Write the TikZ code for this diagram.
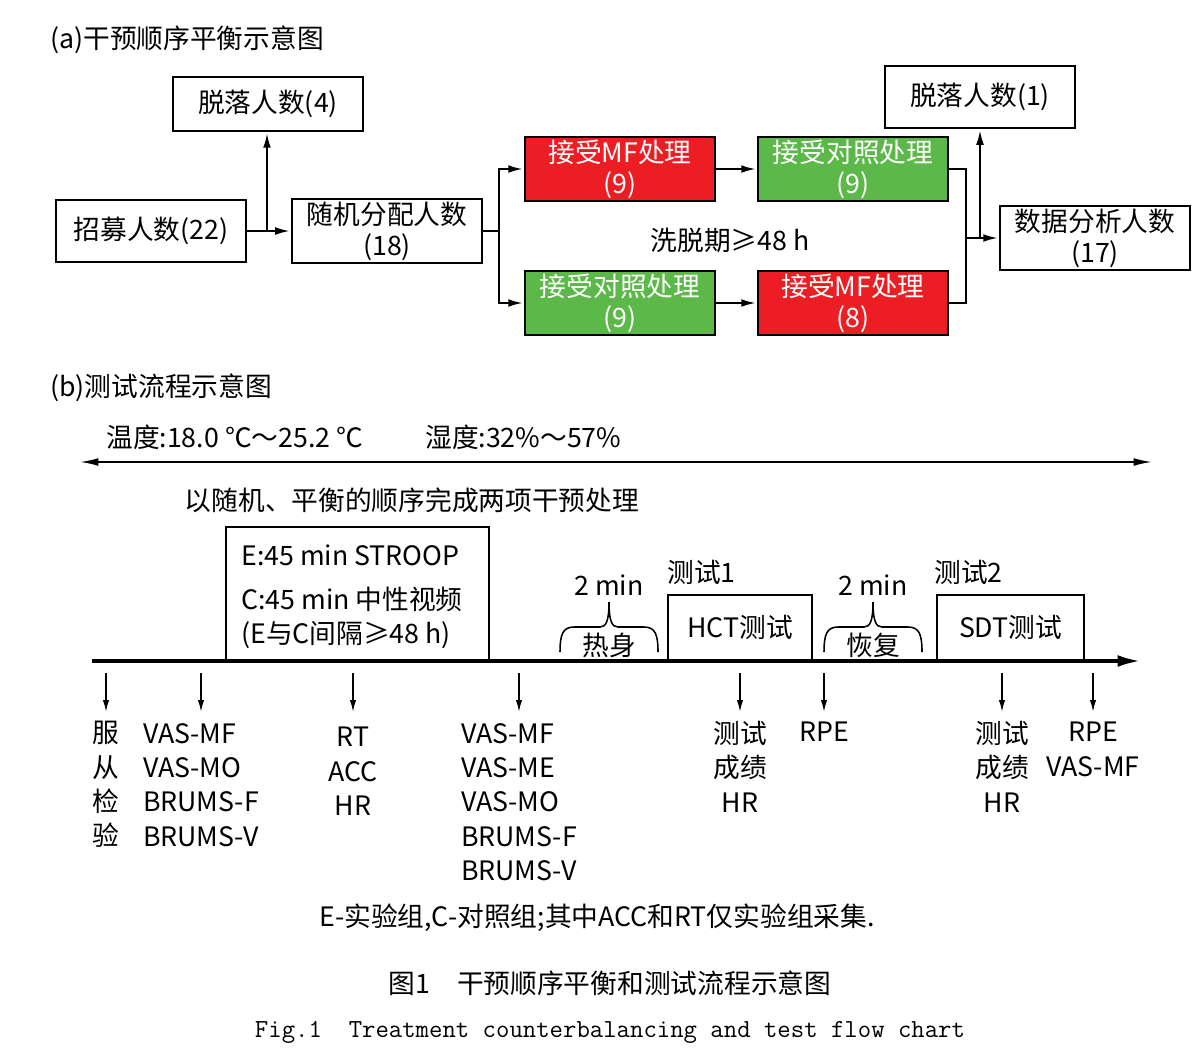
\documentclass[tikz,border=0pt]{standalone}
\usepackage{fontspec}
\setmainfont{Noto Sans CJK SC}
\usetikzlibrary{arrows.meta,positioning}
\definecolor{mfred}{RGB}{236,30,36}
\definecolor{ctrlgreen}{RGB}{92,184,72}
\tikzset{
  txt/.style={font=\fontsize{19}{24.4}\selectfont, align=center, inner sep=0pt},
  box/.style={draw, line width=1.8pt, minimum width=4.75cm, minimum height=1.55cm,
    align=center, inner sep=2pt, font=\fontsize{19}{22}\selectfont},
  mfbox/.style={box, fill=mfred, text=white},
  ctrlbox/.style={box, fill=ctrlgreen, text=white},
  stage/.style={draw, line width=1.6pt, anchor=south, align=center,
    font=\fontsize{19}{21}\selectfont},
  link/.style={line width=1.8pt},
  flow/.style={link, -{Latex[length=11pt,width=5.5pt]}},
  tick/.style={line width=1.1pt, -{Latex[length=8.5pt,width=4.5pt]}},
  brace/.style={line width=1.1pt}
}
\begin{document}
\begin{tikzpicture}[x=0.025cm, y=-0.025cm]
  \useasboundingbox (0,0) rectangle (1200,1061);
  \node[txt, anchor=west] (titleA) at (50,40) {(a)干预顺序平衡示意图};
  \node[box, minimum height=1.35cm] (drop4) at (268,104) {脱落人数(4)};
  \node[box] (recruit) at (151,231) {招募人数(22)};
  \node[box] (random) at (387,231) {随机分配人数\\(18)};
  \node[mfbox] (mfA) at (620,169) {接受MF处理\\(9)};
  \node[ctrlbox] (ctrlA) at (853,169) {接受对照处理\\(9)};
  \node[ctrlbox] (ctrlB) at (620,303) {接受对照处理\\(9)};
  \node[mfbox] (mfB) at (853,303) {接受MF处理\\(8)};
  \node[box] (drop1) at (980,97) {脱落人数(1)};
  \node[box] (analysis) at (1095,238) {数据分析人数\\(17)};
  \node[txt] (washout) at (730,240) {洗脱期≥48 h};
  \coordinate (fork) at (267,231);
  \coordinate (split) at (499,231);
  \coordinate (merge) at (966,238);
  \coordinate (rise) at (980,238);
  \begin{scope}
    \draw[flow] (recruit) -- (random);
    \draw[flow] (fork) -- (fork |- drop4.south);
    \draw[link] (random) -- (split);
    \draw[flow] (split) |- (mfA);
    \draw[flow] (split) |- (ctrlB);
    \draw[flow] (mfA) -- (ctrlA);
    \draw[flow] (ctrlB) -- (mfB);
    \draw[link] (ctrlA.east) -| (merge);
    \draw[link] (mfB.east) -| (merge);
    \draw[flow] (merge) -- (analysis);
    \draw[flow] (rise) -- (drop1);
  \end{scope}

  \node[txt, anchor=west] (titleB) at (50,388) {(b)测试流程示意图};
  \node[txt, anchor=west] (temp) at (106,437) {温度:18.0 ℃～25.2 ℃};
  \node[txt, anchor=west] (humid) at (425,437) {湿度:32\%～57\%};
  \coordinate (envL) at (80,462);
  \coordinate (envR) at (1152,462);
  \draw[line width=1.2pt, {Latex[length=13pt,width=5.5pt]}-{Latex[length=13pt,width=5.5pt]}] (envL) -- (envR);
  \node[txt] (order) at (412,500) {以随机、平衡的顺序完成两项干预处理};
  \coordinate (t0) at (92,661);
  \coordinate (t1) at (1140,661);
  \draw[line width=2.2pt, -{Latex[length=16pt,width=8.5pt]}] (t0) -- (t1);
  \node[stage, minimum width=6.575cm, minimum height=3.325cm] (task) at (357.5,661) {};
  \node[txt, anchor=west, align=left] (tasktext) at (241,597)
    {E:45 min STROOP\\[7pt]C:45 min 中性视频\\(E与C间隔≥48 h)};
  \node[stage, minimum width=3.6cm, minimum height=1.625cm] (hct) at (740,661) {HCT测试};
  \node[stage, minimum width=3.675cm, minimum height=1.625cm] (sdt) at (1010.5,661) {SDT测试};
  \node[txt, anchor=west] (test1) at (667,572) {测试1};
  \node[txt, anchor=west] (test2) at (934,572) {测试2};
  \foreach \a/\m/\b/\name/\lab in {560/609/658/warm/热身, 824/873/922/recover/恢复} {
    \draw[brace] (\a,652) .. controls (\a,634) and (\a+3,627) .. (\a+14,627) -- (\m-9,627)
      .. controls (\m-3,627) and (\m,621) .. (\m,602)
      .. controls (\m,621) and (\m+3,627) .. (\m+9,627) -- (\b-14,627)
      .. controls (\b-3,627) and (\b,634) .. (\b,652);
    \node[txt] (\name) at (\m,645) {\lab};
    \node[txt] (\name-time) at (\m,585) {2 min};
  }
  \coordinate (up) at (0,673);
  \coordinate (down) at (0,712);
  \node[txt, anchor=north] (consent) at (106,721) {服\\从\\检\\验};
  \node[txt, anchor=north, align=left] (pre) at (201,723) {VAS-MF\\VAS-MO\\BRUMS-F\\BRUMS-V};
  \node[txt, anchor=north] (taskout) at (353,727) {RT\\ACC\\HR};
  \node[txt, anchor=north, align=left] (post) at (519,723) {VAS-MF\\VAS-ME\\VAS-MO\\BRUMS-F\\BRUMS-V};
  \node[txt, anchor=north] (hctout) at (740,721) {测试\\成绩\\HR};
  \node[txt, anchor=north] (rpe) at (824,722) {RPE};
  \node[txt, anchor=north] (sdtout) at (1002,721) {测试\\成绩\\HR};
  \node[txt, anchor=north] (final) at (1093,722) {RPE\\VAS-MF};
  \foreach \n in {consent,pre,taskout,post,hctout,rpe,sdtout,final}
    \draw[tick] (\n.north |- up) -- (\n.north |- down);

  \node[txt] (note) at (597,918) {E-实验组,C-对照组;其中ACC和RT仅实验组采集.};
  \node[txt] (capCN) at (610,983) {图1\hspace{1em}干预顺序平衡和测试流程示意图};
  \node[txt, font=\fontsize{18.5}{22}\ttfamily] (capEN) at (610,1032) {Fig.1\ \ Treatment counterbalancing and test flow chart};
\end{tikzpicture}
\end{document}
